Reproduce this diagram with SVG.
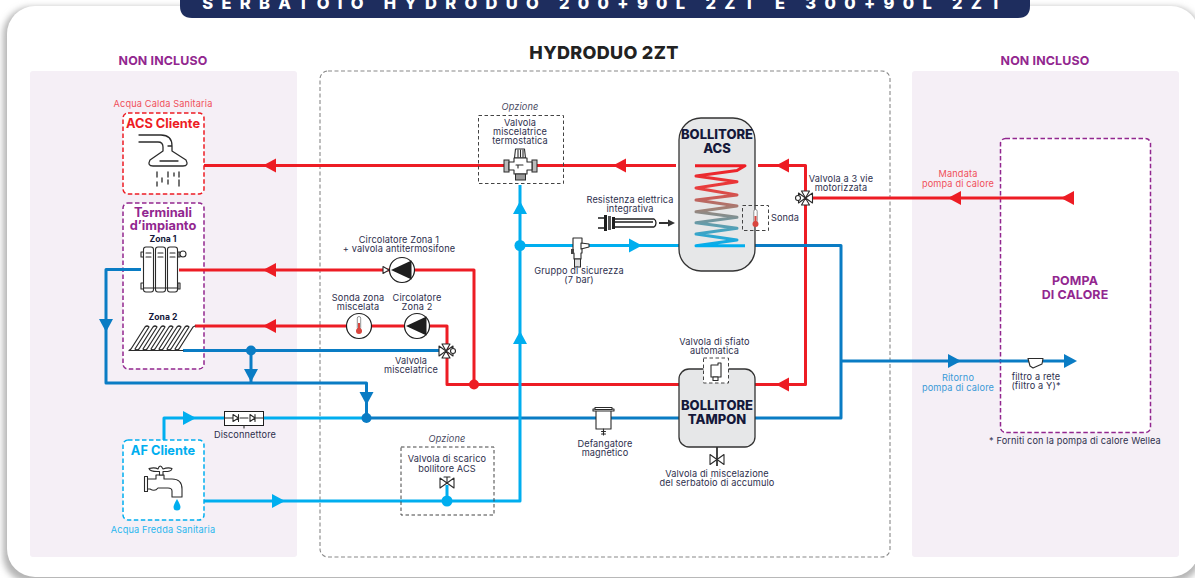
<svg xmlns="http://www.w3.org/2000/svg" width="1195" height="578" viewBox="0 0 1195 578">
<style>
text{font-family:Inter,"Open Sans","Liberation Sans",sans-serif;text-anchor:middle}
.l{font-size:9.2px;fill:#2e2f4d;letter-spacing:.12px}
.li{font-size:9.2px;fill:#4a4b63;font-style:italic;letter-spacing:.12px}
.t{font-size:9.2px;letter-spacing:.15px}
.hd{font-size:12.4px;font-weight:700;fill:#92278f;letter-spacing:.15px}
.tk{font-size:13px;font-weight:800;fill:#14183a}
.nm{font-size:12.8px;font-weight:700}
.pipe{fill:none;stroke-width:3;stroke-linejoin:round}
.r{stroke:#ed1c24}.b{stroke:#0a7cc4}.c{stroke:#00aeef}
.fr{fill:#ed1c24}.fb{fill:#0a7cc4}.fc{fill:#00aeef}
.ic{fill:#fff;stroke:#2b2b2b;stroke-width:1.1;stroke-linejoin:round}
.in{fill:none;stroke:#2b2b2b;stroke-width:1.1;stroke-linecap:round;stroke-linejoin:round}
.box{fill:#fff;stroke-width:1.5;stroke-dasharray:4.5 2.5}
.opt{fill:none;stroke:#444;stroke-width:1;stroke-dasharray:3.5 2.5}
.tank{fill:#e6e7e8;stroke:#333;stroke-width:1.3}
</style>
<defs>
<filter id="sh" x="-3%" y="-3%" width="106%" height="106%"><feGaussianBlur stdDeviation="3"/></filter>
<linearGradient id="coil" gradientUnits="userSpaceOnUse" x1="0" y1="165" x2="0" y2="246">
<stop offset="0" stop-color="#ed1c24"/><stop offset=".3" stop-color="#e8403f"/><stop offset=".55" stop-color="#9d8479"/><stop offset=".75" stop-color="#5d9fb0"/><stop offset="1" stop-color="#00aeef"/>
</linearGradient>
<polygon id="ar" points="-6,-7 7,0 -6,7"/>
<polygon id="al" points="6,-7 -7,0 6,7"/>
<polygon id="au" points="-7,6 0,-7 7,6"/>
<polygon id="ad" points="-7,-6 0,7 7,-6"/>
<g id="therm">
<rect x="-1.7" y="-8.5" width="3.4" height="13" rx="1.7" fill="#fff" stroke="#777" stroke-width=".8"/>
<rect x="-1" y="-2" width="2" height="7" fill="#d9453e"/>
<circle cy="6" r="3" fill="#d9453e"/>
</g>
<g id="pump">
<circle r="12.5" fill="#fff" stroke="#1e1e1e" stroke-width="1.2"/>
<polygon points="-11,0 9.5,-9.5 9.5,9.5" fill="#1e1e1e"/>
</g>
<g id="v2">
<polygon class="ic" points="-7,-5 0,0 -7,5"/>
<polygon class="ic" points="7,-5 0,0 7,5"/>
</g>
</defs>
<rect width="1195" height="578" fill="#fff"/>
<rect x="3" y="7" width="1198" height="576" rx="28" fill="#b5b5b5" filter="url(#sh)"/>
<rect x="7" y="6" width="1192" height="571" rx="28" fill="#fff"/>
<g id="banner">
<path d="M180 -5H1030V6Q1030 18 1018 18H192Q180 18 180 6Z" fill="#1e2d5e"/>
<text x="606" y="9" font-size="16.5" font-weight="800" fill="#fff" letter-spacing="8.3">SERBATOIO HYDRODUO 200+90L 2ZT E 300+90L 2ZT</text>
</g>
<g id="panels">
<rect x="30" y="71" width="267" height="486" rx="3" fill="#f5eff6"/>
<rect x="912" y="71" width="267" height="486" rx="3" fill="#f5eff6"/>
<rect x="320" y="71" width="570" height="486" rx="8" fill="#fff" stroke="#888" stroke-width="1.1" stroke-dasharray="4 2.5"/>
<text class="hd" x="163" y="65">NON INCLUSO</text>
<text class="hd" x="1045" y="65">NON INCLUSO</text>
<text x="604" y="59" font-size="18" font-weight="800" fill="#222" letter-spacing=".3">HYDRODUO 2ZT</text>
</g>
<g id="node-acs-cliente">
<text class="t" x="163" y="107" fill="#f0505a">Acqua Calda Sanitaria</text>
<rect class="box" x="123" y="113" width="81" height="81" rx="5" stroke="#ed1c24"/>
<text class="nm" x="163" y="128" fill="#ed1c24">ACS Cliente</text>
<path class="in" style="stroke-width:1.3" d="M139 135H161Q172 135 172 146V151L186 160Q189 166 183 166H153Q147 166 150 160L163 151V147Q163 142 158 142H139M160 161H178M172 146H168M157 172V177M157 182V186M162 178V182M168 172V177M168 180V184M174 173V176M179 172V177M179 180V186"/>
</g>
<g id="node-terminali">
<rect class="box" x="123" y="203" width="81" height="166" rx="5" stroke="#92278f"/>
<text class="nm" x="163" y="217" fill="#92278f">Terminali</text>
<text class="nm" x="163" y="230" fill="#92278f">d’impianto</text>
<text x="163" y="242" font-size="8.6" font-weight="700" fill="#14183a">Zona 1</text>
<text x="163" y="320" font-size="8.6" font-weight="700" fill="#14183a">Zona 2</text>
</g>
<g id="connectors">
<path class="pipe r" d="M204 165.5H504M536 165.5H676"/>
<path class="pipe r" d="M758 165.5H805.5V384.5H755"/>
<path class="pipe r" d="M805.5 198H1075"/>
<path class="pipe r" d="M179 270H474V384.5"/>
<path class="pipe r" d="M195 326H447V384.5H679"/>
<path class="pipe b" d="M141 269.5H106V383H366.5V418M251 350.5V383"/>
<path class="pipe b" d="M183 350.5H441"/>
<path class="pipe c" d="M164 440V418H366"/>
<path class="pipe b" d="M366 418H679"/>
<path class="pipe b" d="M755 245.5H841V418H755M841 361H1072"/>
<path class="pipe c" d="M204 501H520V185"/>
<path class="pipe c" d="M520 245.5H679M447 501V485"/>
<g class="fr">
<use href="#al" x="270" y="165.5"/><use href="#al" x="620" y="165.5"/><use href="#al" x="783" y="165.5"/>
<use href="#al" x="270" y="270"/><use href="#al" x="270" y="326"/><use href="#al" x="783" y="384.5"/>
<use href="#al" x="955" y="198"/>
<circle cx="474" cy="384.5" r="5"/>
</g>
<g class="fb">
<use href="#ad" x="106" y="325"/><use href="#ad" x="251" y="375"/><use href="#ad" x="366.5" y="398"/>
<use href="#ar" x="954" y="361"/>
<circle cx="251" cy="350.5" r="5"/><circle cx="366.5" cy="418" r="5"/>
</g>
<g class="fc">
<use href="#ar" x="189" y="418"/><use href="#ar" x="278" y="501"/><use href="#ar" x="635" y="245.5"/>
<use href="#au" x="520" y="208"/><use href="#au" x="520" y="338"/>
<circle cx="520" cy="245.5" r="5.5"/><circle cx="447" cy="501" r="5.5"/>
</g>
</g>
<g id="node-radiatore">
<path class="ic" d="M141 252h3v5h-3zM141 283h3v6h-3zM178 252h2v5h-2zM178 283h2v6h-2z"/>
<rect class="ic" x="143.5" y="247" width="10" height="45" rx="2.5"/>
<rect class="ic" x="155.5" y="247" width="10" height="45" rx="2.5"/>
<rect class="ic" x="167.5" y="247" width="10" height="45" rx="2.5"/>
<path class="in" d="M146 253h5M146 257h5M158 253h5M158 257h5M170 253h5M170 257h5M143.5 288h34"/>
<circle class="ic" cx="183" cy="254" r="3"/>
</g>
<g id="node-pavimento">
<path class="in" style="stroke-width:1.2" d="M129 350.5H183M129 350.5L131 349L145 327Q147 325 149 327L135 349Q137 351 139 349L153 327Q155 325 157 327L143 349Q145 351 147 349L161 327Q163 325 165 327L151 349Q153 351 155 349L169 327Q171 325 173 327L159 349Q161 351 163 349L177 327Q179 325 181 327L167 349Q169 351 171 349L185 327Q187 325 189 327L175 349Q177 351 179 349L193 327L195 326"/>
</g>
<g id="node-af-cliente">
<rect class="box" x="123" y="440" width="81" height="80" rx="5" stroke="#00aeef"/>
<text class="nm" x="163" y="455" fill="#00aeef">AF Cliente</text>
<path class="ic" d="M144.5 476.5h3v15h-3zM147.5 479H156V475H164V479H172Q182 479 182 489V497H172V491Q172 488 168 488H158Q155 492 150 489H147.5Z"/>
<path class="ic" d="M149 468.5Q155 467 158 469Q160 463 163 469Q168 467 172 468.5Q172 472 163 471.5V475H159.5V471.5Q150 472 149 468.5Z"/>
<path class="fc" d="M177 499Q180.5 505 180.5 507A3.5 3.5 0 0 1 173.5 507Q173.5 505 177 499Z"/>
<text class="t" x="163" y="533" fill="#29b6ee">Acqua Fredda Sanitaria</text>
</g>
<g id="node-disconnettore">
<rect x="224.5" y="411.5" width="39" height="14" fill="#fff" stroke="#1e1e1e" stroke-width="1"/>
<path class="in" d="M224.5 418H233M240 418H248M255 418H263.5M233 414.5L238.5 418L233 421.5ZM238.5 414.5V421.5M250 414.5L255 418L250 421.5ZM255 414.5V421.5M244 425.5V428"/>
<text class="l" x="245" y="438">Disconnettore</text>
</g>
<g id="node-valvola-termostatica">
<text class="li" x="520" y="110">Opzione</text>
<rect class="opt" x="478.5" y="115.5" width="85" height="68"/>
<text class="l" x="520" y="126">Valvola</text>
<text class="l" x="520" y="135">miscelatrice</text>
<text class="l" x="520" y="144">termostatica</text>
<path class="ic" d="M515.5 149h9l1 9h-11z"/>
<rect x="504" y="160" width="5" height="12" fill="#bbb" stroke="#2b2b2b"/>
<rect x="532" y="160" width="5" height="12" fill="#bbb" stroke="#2b2b2b"/>
<path class="ic" d="M509 162h5v-4h13v4h5v8h-5v4h-13v-4h-5z"/>
<rect x="515.5" y="174" width="10" height="6" fill="#999" stroke="#2b2b2b"/>
<path class="in" d="M518 150v7M520.5 150v7M523 150v7M516 165h7M518 165v3"/>
</g>
<g id="node-circolatore-1">
<text class="l" x="399" y="243">Circolatore Zona 1</text>
<text class="l" x="399" y="252">+ valvola antitermosifone</text>
<path class="ic" d="M383 266.5l6 3.5l-6 3.5z"/>
<use href="#pump" x="402" y="270"/>
</g>
<g id="node-sonda-zona">
<text class="l" x="358" y="301">Sonda zona</text>
<text class="l" x="358" y="310">miscelata</text>
<circle cx="359" cy="326" r="12.5" fill="#fff" stroke="#1e1e1e" stroke-width="1.2"/>
<use href="#therm" x="359" y="325"/>
</g>
<g id="node-circolatore-2">
<text class="l" x="417" y="301">Circolatore</text>
<text class="l" x="417" y="310">Zona 2</text>
<use href="#pump" x="417" y="326"/>
</g>
<g id="node-valvola-miscelatrice">
<text class="l" x="411" y="364">Valvola</text>
<text class="l" x="411" y="373">miscelatrice</text>
<use href="#v2" x="446" y="351"/>
<polygon class="ic" points="442,344 450,344 446,351"/>
<polygon class="ic" points="442,358 450,358 446,351"/>
<circle class="ic" cx="453" cy="351" r="2.5"/>
</g>
<g id="node-valvola-scarico">
<text class="li" x="447" y="442">Opzione</text>
<rect class="opt" x="401" y="447" width="93" height="68"/>
<text class="l" x="447" y="462">Valvola di scarico</text>
<text class="l" x="447" y="471.5">bollitore ACS</text>
<use href="#v2" x="447" y="483"/>
<path class="in" d="M447 483V477M444 477H450"/>
</g>
<g id="node-gruppo-sicurezza">
<path class="ic" d="M573 238h9v15h-1v6h-7v-6h-1z"/>
<path class="ic" d="M581 243l8 1v3l-8 2z"/>
<rect x="574.5" y="259" width="6" height="8" fill="#ddd" stroke="#2b2b2b"/>
<path d="M571 249h3v5h-3z" fill="#444"/>
<text class="l" x="579" y="274">Gruppo di sicurezza</text>
<text class="l" x="579" y="283">(7 bar)</text>
</g>
<g id="node-bollitore-acs">
<rect class="tank" x="679" y="118" width="76" height="153" rx="22"/>
<text class="tk" x="717" y="139">BOLLITORE</text>
<text class="tk" x="717" y="153">ACS</text>
<path d="M695 165.7H745L737 170.5L696 176L737 181.7L696 188L737 195L696 200L737 206L696 211.7L737 217.3L696 222.7L737 228.3L696 234L737 240L696 245.7H745" fill="none" stroke="url(#coil)" stroke-width="3" stroke-linejoin="round"/>
</g>
<g id="node-resistenza">
<text class="l" x="630" y="203">Resistenza elettrica</text>
<text class="l" x="630" y="212">integrativa</text>
<path d="M598 218H605M598 228H605" stroke="#1e1e1e" stroke-width="1.5"/>
<rect x="604" y="215" width="3" height="16" fill="#1e1e1e"/><rect x="608" y="216" width="3" height="14" fill="#555"/><rect x="612" y="217" width="3" height="12" fill="#1e1e1e"/>
<path d="M615 219H654Q656 220 656 223Q656 226 654 227H615M615 222H653" fill="none" stroke="#1e1e1e" stroke-width="1.3"/>
<path d="M659 223H669" stroke="#333" stroke-width="2"/><polygon points="668,219.5 675,223 668,226.5" fill="#333"/>
</g>
<g id="node-sonda">
<rect class="opt" x="742.5" y="205.5" width="26" height="25"/>
<use href="#therm" x="755.5" y="218"/>
<text class="l" x="785" y="221">Sonda</text>
</g>
<g id="node-valvola-3-vie">
<text class="l" x="841" y="182">Valvola a 3 vie</text>
<text class="l" x="841" y="191">motorizzata</text>
<use href="#v2" x="805.5" y="198"/>
<polygon class="ic" points="801.5,191 809.5,191 805.5,198"/>
<polygon class="ic" points="801.5,205 809.5,205 805.5,198"/>
<circle class="ic" cx="798" cy="198" r="2.5"/>
</g>
<g id="node-bollitore-tampon">
<rect class="tank" x="679" y="369" width="76" height="78" rx="10"/>
<text class="tk" x="717" y="410">BOLLITORE</text>
<text class="tk" x="717" y="424">TAMPON</text>
</g>
<g id="node-sfiato">
<text class="l" x="714.5" y="345">Valvola di sfiato</text>
<text class="l" x="714.5" y="354">automatica</text>
<rect x="703.5" y="358" width="25" height="25" fill="#fff" stroke="#444" stroke-dasharray="3.5 2.5"/>
<path class="ic" d="M711 365h7v-2h3v14h-10z"/>
<rect class="ic" x="713" y="377" width="5" height="3.5"/>
</g>
<g id="node-miscelazione">
<path d="M717 447V466" stroke="#333" stroke-width="1.8"/>
<use href="#v2" x="717" y="459.5"/>
<text class="l" x="717" y="477">Valvola di miscelazione</text>
<text class="l" x="717" y="486">del serbatoio di accumulo</text>
</g>
<g id="node-defangatore">
<path class="ic" d="M593 409h21v2h-21zM596 411h15v18h-15z"/>
<rect class="ic" x="595" y="407.5" width="17" height="2"/>
<path class="in" d="M603.5 429V435M601.5 431.5H605.5M601.5 434H605.5"/>
<text class="l" x="605" y="447">Defangatore</text>
<text class="l" x="605" y="456">magnetico</text>
</g>
<g id="node-pompa">
<rect x="1000.5" y="138.5" width="150" height="294" rx="5" fill="#fff" stroke="#92278f" stroke-width="1.5" stroke-dasharray="4.5 2.5"/>
<text class="hd" x="1075" y="285">POMPA</text>
<text class="hd" x="1075" y="299">DI CALORE</text>
<text class="t" x="958" y="177" fill="#f0505a">Mandata</text>
<text class="t" x="958" y="187" fill="#f0505a">pompa di calore</text>
<text class="t" x="958" y="381" fill="#3a9ad6">Ritorno</text>
<text class="t" x="958" y="391" fill="#3a9ad6">pompa di calore</text>
<text class="l" x="1036" y="380">filtro a rete</text>
<text class="l" x="1036" y="389">(filtro a Y)*</text>
<text class="l" x="1075" y="444">* Forniti con la pompa di calore Wellea</text>
</g>
<g id="pompa-connectors">
<path class="pipe r" d="M1000 198H1066"/><use href="#al" x="1068" y="198" class="fr"/>
<path class="pipe b" d="M1000 361H1072"/><use href="#ar" x="1070" y="361" class="fb"/>
<path class="ic" d="M1028 358.5H1043L1042 364L1033 368L1030 366Z"/>
</g>
</svg>
